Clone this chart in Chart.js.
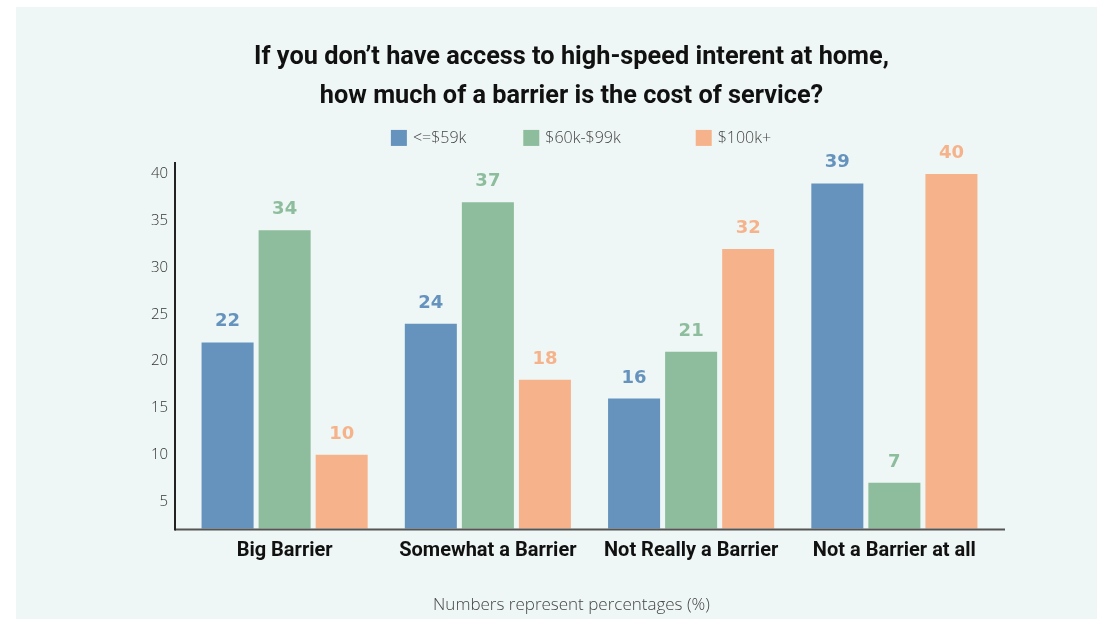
<!DOCTYPE html>
<html>
<head>
<meta charset="utf-8">
<title>Cost of service as a barrier</title>
<script src="https://cdn.jsdelivr.net/npm/chart.js@4.4.1/dist/chart.umd.min.js"></script>
<style>
  html, body { margin: 0; padding: 0; background: #fff; }
  #wrap { position: relative; width: 1097px; height: 619px; }
</style>
</head>
<body>
<div id="wrap"><canvas id="chart" width="1097" height="619"></canvas></div>
<script>
// Survey answers, grouped by household income
const categories = ['Big Barrier', 'Somewhat a Barrier', 'Not Really a Barrier', 'Not a Barrier at all'];
const seriesNames = ['<=$59k', '$60k-$99k', '$100k+'];
const lowIncome = [22, 24, 16, 39];
const midIncome = [34, 37, 21, 7];
const highIncome = [10, 18, 32, 40];
const yTicks = [5, 10, 15, 20, 25, 30, 35, 40];

const colors = ['#6593bd', '#8dbd9d', '#f6b38b'];
const lightFont = '"Open Sans", Lato, sans-serif';

// Mint panel behind everything
const panelBg = {
  id: 'panelBg',
  beforeDraw(chart) {
    const ctx = chart.ctx;
    ctx.save();
    ctx.fillStyle = '#eef7f5';
    ctx.fillRect(16, 7, chart.width - 16, chart.height - 7);
    ctx.restore();
  }
};

// Axis lines run a little past the bar area on both sides
const axisLines = {
  id: 'axisLines',
  afterDatasetsDraw(chart) {
    const { ctx, chartArea: a } = chart;
    const x0 = a.left - 8;
    ctx.save();
    ctx.lineWidth = 2;
    ctx.strokeStyle = '#555';
    ctx.beginPath();
    ctx.moveTo(x0, a.bottom + 1);
    ctx.lineTo(a.right + 9, a.bottom + 1);
    ctx.stroke();
    ctx.strokeStyle = '#222';
    ctx.beginPath();
    ctx.moveTo(x0, a.top);
    ctx.lineTo(x0, a.bottom + 2);
    ctx.stroke();
    ctx.restore();
  }
};

// Value labels above each bar, in the series colour
const valueLabels = {
  id: 'valueLabels',
  afterDatasetsDraw(chart) {
    const ctx = chart.ctx;
    ctx.save();
    ctx.font = 'bold 18px "DejaVu Sans", sans-serif';
    ctx.textAlign = 'center';
    ctx.textBaseline = 'alphabetic';
    chart.data.datasets.forEach((ds, i) => {
      const meta = chart.getDatasetMeta(i);
      ctx.fillStyle = ds.backgroundColor;
      meta.data.forEach((bar, j) => {
        ctx.fillText(ds.data[j], bar.x, bar.y - 16);
      });
    });
    ctx.restore();
  }
};

// Single-row legend sitting in the gap between title and plot
const rowLegend = {
  id: 'rowLegend',
  afterDraw(chart) {
    const ctx = chart.ctx;
    const box = 16, gapText = 6, gaps = [57, 75];
    ctx.save();
    ctx.font = '300 16px ' + lightFont;
    ctx.textBaseline = 'middle';
    const items = chart.data.datasets.map(ds => ({
      text: ds.label, color: ds.backgroundColor, w: box + gapText + ctx.measureText(ds.label).width
    }));
    const total = items.reduce((s, it) => s + it.w, 0) + gaps.reduce((s, g) => s + g, 0);
    const cy = chart.titleBlock.bottom - 24;
    let x = 581 - total / 2;
    items.forEach((it, i) => {
      ctx.fillStyle = it.color;
      ctx.fillRect(x, cy - box / 2, box, box);
      ctx.fillStyle = '#444';
      ctx.fillText(it.text, x + box + gapText, cy + 1);
      x += it.w + (gaps[i] || 0);
    });
    ctx.restore();
  }
};

new Chart(document.getElementById('chart'), {
  type: 'bar',
  data: {
    labels: categories,
    datasets: [
      { label: seriesNames[0], data: lowIncome, backgroundColor: colors[0] },
      { label: seriesNames[1], data: midIncome, backgroundColor: colors[1] },
      { label: seriesNames[2], data: highIncome, backgroundColor: colors[2] }
    ]
  },
  options: {
    responsive: false,
    animation: false,
    categoryPercentage: 0.842,
    barPercentage: 0.912,
    layout: { padding: { left: 147, right: 101, top: 38, bottom: 4 } },
    plugins: {
      title: {
        display: true,
        text: ["If you don\u2019t have access to high-speed interent at home,", 'how much of a barrier is the cost of service?'],
        color: '#111',
        font: { family: 'Roboto, sans-serif', size: 25.3, weight: 'bold', lineHeight: 1.54 },
        padding: { top: 0, bottom: 46 }
      },
      legend: { display: false },
      subtitle: {
        display: true,
        position: 'bottom',
        text: 'Numbers represent percentages (%)',
        color: '#444',
        font: { family: lightFont, size: 17, weight: 300 },
        padding: { top: 22, bottom: 0 }
      },
      tooltip: { enabled: false }
    },
    scales: {
      x: {
        grid: { display: false, drawTicks: false },
        border: { display: false },
        ticks: {
          color: '#111',
          padding: 10,
          font: { family: 'Roboto, sans-serif', size: 20, weight: 'bold' }
        }
      },
      y: {
        min: 2.1,
        max: 41.3,
        grid: { display: false, drawTicks: false },
        border: { display: false },
        afterBuildTicks(scale) {
          scale.ticks = yTicks.map(v => ({ value: v }));
        },
        afterFit(scale) {
          scale.width = 36;
        },
        ticks: {
          color: '#333',
          padding: 15,
          font: { family: lightFont, size: 15, weight: 300 }
        }
      }
    }
  },
  plugins: [panelBg, axisLines, valueLabels, rowLegend]
});
</script>
</body>
</html>
